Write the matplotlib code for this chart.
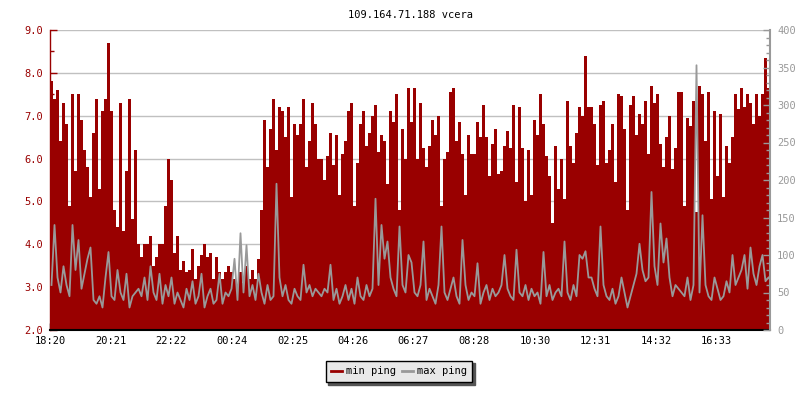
import numpy as np
import matplotlib
matplotlib.use("Agg")
import matplotlib.pyplot as plt
from matplotlib.ticker import MultipleLocator, FormatStrFormatter
from matplotlib.lines import Line2D

# ---------------- data ----------------
title = "109.164.71.188 vcera"
start_time = "18:20"
sample_minutes = 6
tick_labels = ["18:20", "20:21", "22:22", "00:24", "02:25", "04:26",
               "06:27", "08:28", "10:30", "12:31", "14:32", "16:33"]
series_names = ["min ping", "max ping"]

# min ping (left axis), 6-minute samples
min_ping_1 = [7.8, 7.4, 7.6, 6.4, 7.3, 6.8, 4.9, 7.5, 5.7, 7.5, 6.9, 6.2, 5.8, 5.1, 6.6,
              7.4, 5.3, 7.1, 7.4, 8.7, 7.1, 4.8, 4.4, 7.3, 4.3, 5.7, 7.4, 4.6, 6.2, 4.0]
min_ping_2 = [3.7, 4.0, 4.0, 4.2, 3.5, 3.7, 4.0, 4.0, 4.9, 6.0, 5.5, 3.8, 4.2, 3.4, 3.6,
              3.35, 3.4, 3.9, 3.2, 3.5, 3.75, 4.0, 3.7, 3.8, 3.2, 3.7, 3.35, 3.2, 3.35, 3.5]
min_ping_3 = [3.35, 3.2, 3.0, 3.35, 3.1, 3.5, 3.2, 3.4, 3.2, 3.65, 4.8, 6.9, 5.8, 6.7, 7.4,
              6.2, 7.2, 7.1, 6.5, 7.2, 5.1, 6.8, 6.55, 6.8, 7.4, 5.8, 6.4, 7.3, 6.8, 6.0]
min_ping_4 = [6.0, 5.5, 6.05, 6.6, 5.85, 6.55, 5.15, 6.1, 6.4, 7.1, 7.3, 4.9, 5.9, 6.8, 7.1,
              6.3, 6.6, 7.0, 7.25, 6.15, 6.55, 6.4, 5.4, 7.1, 6.85, 7.5, 4.8, 6.7, 6.0, 7.65]
min_ping_5 = [6.85, 7.65, 6.0, 7.3, 6.25, 5.8, 6.3, 6.9, 6.55, 7.0, 4.9, 6.0, 6.15, 7.55, 7.65,
              6.4, 6.85, 6.1, 5.15, 6.55, 6.1, 6.1, 6.85, 6.5, 7.25, 6.5, 5.6, 6.35, 6.7, 5.65]
min_ping_6 = [5.7, 6.3, 6.65, 6.25, 7.25, 5.45, 7.2, 6.25, 5.0, 6.2, 5.15, 6.9, 6.55, 7.5, 6.8,
              6.05, 5.6, 4.5, 6.3, 5.3, 6.0, 5.05, 7.35, 6.3, 5.9, 6.6, 7.2, 7.0, 8.4, 7.2]
min_ping_7 = [7.2, 6.8, 5.85, 7.25, 7.35, 5.9, 6.2, 6.8, 5.45, 7.5, 7.45, 6.7, 4.8, 7.25, 7.45,
              6.55, 7.05, 6.8, 7.35, 6.1, 7.7, 7.3, 7.5, 6.35, 5.8, 6.5, 7.0, 5.75, 6.25, 7.55]
min_ping_8 = [7.55, 4.9, 6.95, 6.75, 7.35, 4.75, 7.7, 7.5, 6.4, 7.55, 5.05, 7.1, 5.6, 7.05, 5.1,
              6.3, 5.9, 6.5, 7.5, 7.15, 7.65, 7.2, 7.5, 7.3, 6.8, 7.5, 7.0, 7.5, 8.35, 7.65]

# max ping (right axis), 6-minute samples
max_ping_1 = [60, 140, 70, 50, 85, 60, 45, 140, 80, 120, 55, 75, 95, 110, 40,
              35, 45, 30, 70, 104, 45, 40, 80, 50, 40, 75, 30, 45, 50, 55]
max_ping_2 = [45, 70, 40, 85, 50, 40, 75, 35, 60, 45, 70, 35, 50, 40, 30,
              55, 40, 65, 35, 45, 75, 30, 45, 55, 35, 40, 75, 35, 50, 45]
max_ping_3 = [55, 95, 40, 129, 50, 113, 45, 60, 40, 75, 50, 35, 60, 40, 45,
              195, 70, 45, 60, 40, 35, 55, 45, 40, 87, 50, 60, 45, 55, 50]
max_ping_4 = [45, 55, 50, 87, 40, 55, 35, 45, 60, 40, 55, 35, 70, 45, 40,
              60, 45, 55, 175, 60, 140, 95, 118, 70, 55, 45, 138, 60, 50, 100]
max_ping_5 = [90, 50, 45, 60, 118, 40, 55, 45, 35, 60, 138, 50, 40, 55, 70,
              45, 35, 120, 60, 40, 50, 45, 89, 35, 50, 60, 40, 55, 45, 50]
max_ping_6 = [60, 100, 55, 45, 40, 107, 50, 45, 60, 40, 55, 45, 50, 35, 104,
              45, 60, 40, 50, 55, 45, 118, 50, 40, 60, 45, 100, 95, 105, 70]
max_ping_7 = [70, 55, 45, 138, 60, 45, 40, 55, 35, 45, 70, 50, 30, 45, 60,
              75, 115, 80, 65, 70, 184, 85, 60, 142, 90, 122, 70, 45, 60, 55]
max_ping_8 = [50, 45, 70, 40, 60, 353, 50, 153, 60, 45, 40, 70, 55, 40, 45,
              65, 50, 100, 60, 70, 80, 100, 55, 110, 75, 60, 85, 100, 65, 70]

min_ping = (min_ping_1 + min_ping_2 + min_ping_3 + min_ping_4 +
            min_ping_5 + min_ping_6 + min_ping_7 + min_ping_8)
max_ping = (max_ping_1 + max_ping_2 + max_ping_3 + max_ping_4 +
            max_ping_5 + max_ping_6 + max_ping_7 + max_ping_8)

# ---------------- style ----------------
RED = "#990000"
GRAY = "#999999"
GRID = "#c0c0c0"
FONT = "DejaVu Sans Mono"
FS = 7.5


def to_minutes(t):
    h, m = t.split(":")
    return int(h) * 60 + int(m)


t0 = to_minutes(start_time)
tick_pos = [(to_minutes(t) - t0) % 1440 for t in tick_labels]

n = len(min_ping)
x = np.arange(n + 1) * sample_minutes
y_min = np.append(min_ping, min_ping[-1])
x_mid = (np.arange(n) + 0.5) * sample_minutes

fig = plt.figure(figsize=(8, 4), dpi=100)
ax = fig.add_axes([50 / 800, 70 / 400, 720 / 800, 300 / 400])
ax.set_xlim(0, n * sample_minutes)
ax.set_ylim(2, 9)

ax.fill_between(x, 2, y_min, step="post", color=RED, lw=0, zorder=2)
ax.yaxis.grid(True, color=GRID, lw=1, zorder=0)
ax.set_axisbelow(True)

ax.yaxis.set_major_locator(MultipleLocator(1.0))
ax.yaxis.set_minor_locator(MultipleLocator(0.5))
ax.yaxis.set_major_formatter(FormatStrFormatter("%.1f"))
ax.tick_params(axis="y", which="major", direction="in", length=5, width=1,
               color=RED, labelcolor=RED, labelsize=FS, pad=5)
ax.tick_params(axis="y", which="minor", direction="in", length=3, width=1, color=RED)
ax.set_xticks(tick_pos)
ax.set_xticklabels(tick_labels)
ax.tick_params(axis="x", direction="in", length=5, width=1, color="black",
               labelsize=FS, pad=4)
for lab in ax.get_xticklabels() + ax.get_yticklabels():
    lab.set_family(FONT)

ax.spines["top"].set_visible(False)
ax.spines["right"].set_visible(False)
ax.spines["left"].set_color(RED)
ax.spines["left"].set_linewidth(1)
ax.spines["bottom"].set_color("black")
ax.spines["bottom"].set_linewidth(1.5)

ax2 = ax.twinx()
ax2.set_ylim(0, 400)
ax2.plot(x_mid, max_ping, color=GRAY, lw=1.3, zorder=3)
ax2.yaxis.set_major_locator(MultipleLocator(50))
ax2.yaxis.set_minor_locator(MultipleLocator(10))
ax2.tick_params(axis="y", which="major", direction="in", length=5, width=1,
                color=GRAY, labelcolor=GRAY, labelsize=FS, pad=5)
ax2.tick_params(axis="y", which="minor", direction="in", length=3, width=1, color=GRAY)
for lab in ax2.get_yticklabels():
    lab.set_family(FONT)
for s in ["top", "left", "bottom"]:
    ax2.spines[s].set_visible(False)
ax2.spines["right"].set_color(GRAY)
ax2.spines["right"].set_linewidth(1.5)

ax.set_title(title, fontsize=FS, family=FONT, color="black", pad=9)

handles = [Line2D([0], [0], color=RED, lw=2), Line2D([0], [0], color=GRAY, lw=2)]
leg = fig.legend(handles, series_names, loc="center",
                 bbox_to_anchor=(399 / 800, 1 - 371.3 / 400), ncol=2,
                 frameon=True, fancybox=False, framealpha=1,
                 shadow={"color": "#555555", "alpha": 1},
                 edgecolor="black", facecolor="#e8e8e8",
                 prop={"family": FONT, "size": FS},
                 handlelength=1.0, handletextpad=0.4, columnspacing=0.6,
                 borderpad=0.55, borderaxespad=0)
leg.get_frame().set_linewidth(1.0)

fig.savefig("out.png", dpi=100)
